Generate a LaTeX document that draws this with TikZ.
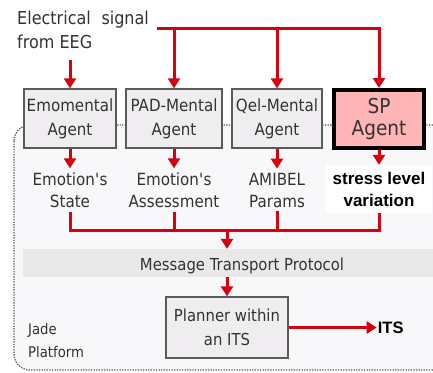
\documentclass[tikz,border=0pt]{standalone}
\usepackage{fontspec}
\setmainfont{DejaVu Sans}[FakeStretch=0.9]
\newfontfamily\arialf{Liberation Sans}
\usetikzlibrary{positioning,arrows.meta}
\definecolor{txt}{HTML}{333333}
\definecolor{boxgray}{HTML}{5A5A5A}
\definecolor{boxfill}{HTML}{EFEDF0}
\definecolor{framefill}{HTML}{F8F7F9}
\definecolor{bandgray}{HTML}{E9E9E9}
\definecolor{sppink}{HTML}{FFB5B5}
\definecolor{sigred}{HTML}{D7000F}

\begin{document}
\begin{tikzpicture}[x=1pt,y=-1pt,
  agent/.style={draw=boxgray,line width=1.4pt,fill=boxfill,text=txt,align=center,
    minimum height=59pt,inner sep=0pt,font=\fontsize{16.8}{24}\selectfont},
  outlabel/.style={text=txt,align=center,inner sep=4pt,font=\fontsize{16.8}{22}\selectfont},
  redline/.style={draw=sigred,line width=3pt},
  sig/.style={redline,-{Triangle[width=12pt,length=10pt]}}]
 \clip (0,0) rectangle (433,372);
 \fill[white] (0,0) rectangle (433,372);
 \draw[draw=boxgray,fill=framefill,line width=1.3pt,dash pattern=on 1.3pt off 1.3pt,
   rounded corners=16pt] (14,125) rectangle (470,370);
 \node[fill=bandgray,minimum width=410pt,minimum height=28pt,inner sep=0pt] (mtp) at (228,263) {};
 \node[text=txt,font=\fontsize{16.5}{18}\selectfont,inner sep=0pt] (mtptext) at (242,266) {Message Transport Protocol};
  \node[anchor=north west,align=left,text=txt,inner sep=0pt,
    font=\fontsize{17.8}{24.4}\selectfont] (eeg) at (17,10.3) {Electrical\hspace{0.6em}signal\\from EEG};
  \coordinate (bus) at (157,28);
 \node[agent,minimum width=92pt] (emo) at (70,118.5) {Emomental\\Agent};
 \node[agent,minimum width=96pt] (pad) at (174,118.5) {PAD-Mental\\Agent};
 \node[agent,minimum width=90pt] (qel) at (277,118.5) {Qel-Mental\\Agent};
 \node[agent,draw=black,line width=4pt,fill=sppink,minimum width=90pt,minimum height=58pt,
   font=\fontsize{20.5}{22}\selectfont] (sp) at (379,119) {SP\\Agent};
 \node[outlabel] (emost) at (70,190) {Emotion\textquotesingle s\\State};
 \node[outlabel] (padst) at (174,190) {Emotion\textquotesingle s\\Assessment};
 \node[outlabel] (qelst) at (277,190) {AMIBEL\\Params};
 \node[outlabel,fill=white,minimum width=106pt,minimum height=48pt,
   font=\arialf\bfseries\fontsize{17}{22}\selectfont,text=black] (spst) at (379,189) {stress level\\variation};
 \coordinate (join) at (227,230);
 \node[agent,minimum width=122pt,minimum height=61pt,font=\fontsize{16.5}{24}\selectfont] (plan) at (227,327.5) {Planner within\\an ITS};
 \node[right=88pt of plan,inner sep=1pt,font=\arialf\bfseries\fontsize{16.5}{20}\selectfont] (its) {ITS};
 \node[anchor=west,align=left,text=txt,inner sep=0pt,font=\fontsize{14.7}{23}\selectfont] (jade) at (28,341) {Jade\\Platform};
  \draw[sig] ([yshift=-11pt]eeg.south -| emo.north) -- (emo);
  \draw[sig] (bus) -| (sp.north);
  \draw[sig] (pad.north |- bus) -- (pad);
  \draw[sig] (qel.north |- bus) -- (qel);
  \draw[sig] (emo) -- (emost);
  \draw[sig] (pad) -- (padst);
  \draw[sig] (qel) -- (qelst);
  \draw[sig] (sp) -- (spst);
  \draw[redline] (emost.south) -- (emost.south |- join) -- (spst.south |- join) -- (spst.south);
  \draw[redline] (padst.south) -- (padst.south |- join);
  \draw[redline] (qelst.south) -- (qelst.south |- join);
  \draw[sig] (join) -- (join |- mtp.north);
  \draw[sig] (mtp.south -| plan) -- (plan);
  \draw[sig] (plan) -- (its);
\end{tikzpicture}
\end{document}
